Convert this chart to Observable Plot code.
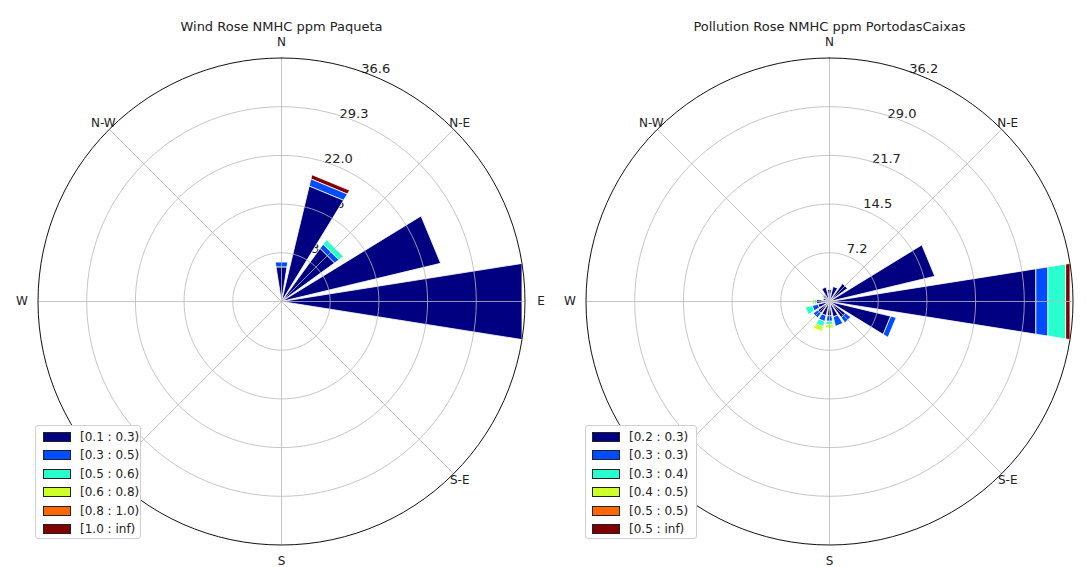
<!DOCTYPE html>
<html><head><meta charset="utf-8">
<script src="https://cdn.jsdelivr.net/npm/d3@7"></script>
<script src="https://cdn.jsdelivr.net/npm/@observablehq/plot@0.6"></script>
<style>
body{margin:0;background:#fff;font-family:"DejaVu Sans",sans-serif;}
#wrap{position:relative;width:1086px;height:567px;display:flex;overflow:hidden;background:#fff;}
.panel{position:relative;width:543px;height:567px;}
.panel svg{overflow:visible;}
.legend{position:absolute;background:#fff;border:1px solid #cfcfcf;border-radius:3px;box-sizing:border-box;padding-top:1.5px;font-size:12px;color:#222;z-index:2;}
.row{height:18.5px;display:flex;align-items:center;}
.sw{width:26px;height:8px;border:1px solid #222;}
</style></head>
<body><div id="wrap"></div>
<script>
// ---- data ----
const directions = ["N","NNE","NE","ENE","E","ESE","SE","SSE","S","SSW","SW","WSW","W","WNW","NW","NNW"];
const binColors = ["#000080","#004cff","#29ffce","#ceff29","#ff6800","#800000"];
const compassLabels = ["N","N-E","E","S-E","S","S-W","W","N-W"];

// Paqueta (left) - frequency (%) per direction for each bin
const paquetaBinLabels = ["[0.1 : 0.3)","[0.3 : 0.5)","[0.5 : 0.6)","[0.6 : 0.8)","[0.8 : 1.0)","[1.0 : inf)"];
const paquetaTicks = ["7.3","14.6","22.0","29.3","36.6"];
const paquetaBin0 = [5.3,17.9,9.9,24.6,36.6,0,0,0,0,0,0,0,0,0,0,0];
const paquetaBin1 = [0.7,1.1,0.8,0,0,0,0,0,0,0,0,0,0,0,0,0];
const paquetaBin2 = [0,0,0.8,0,0,0,0,0,0,0,0,0,0,0,0,0];
const paquetaBin3 = [0,0,0,0,0,0,0,0,0,0,0,0,0,0,0,0];
const paquetaBin4 = [0,0,0,0,0,0,0,0,0,0,0,0,0,0,0,0];
const paquetaBin5 = [0,0.6,0,0,0,0,0,0,0,0,0,0,0,0,0,0];

// PortodasCaixas (right)
const caixasBinLabels = ["[0.2 : 0.3)","[0.3 : 0.3)","[0.3 : 0.4)","[0.4 : 0.5)","[0.5 : 0.5)","[0.5 : inf)"];
const caixasTicks = ["7.2","14.5","21.7","29.0","36.2"];
const caixasBin0 = [1.8,2.3,3.3,16.1,31.1,9.4,3.0,2.4,2.2,2.2,2.2,1.8,2.0,1.0,1.2,2.2];
const caixasBin1 = [0,0,0,0,1.8,0.8,0.9,1.4,0.8,0.9,0.8,0.9,0,0,0,0];
const caixasBin2 = [0,0,0,0,2.7,0,0,0,0.5,0.8,0,1.0,0.3,0,0,0];
const caixasBin3 = [0,0,0,0,0,0,0,0,0.5,0.7,0,0,0.3,0,0,0];
const caixasBin4 = [0,0,0,0,0,0,0,0,0,0,0,0,0,0,0,0];
const caixasBin5 = [0,0,0,0,0.6,0,0,0,0,0,0,0,0,0,0,0];

const W = 543, H = 567, R = 243.5;
const rad = d => d * Math.PI / 180;
const rlabelDx = [9, 11, 1, -2, 1];

function rose({bins, ticks, title, cx, cy, legendLabels, legendLeft}) {
  const totals = directions.map((d, i) => d3.sum(bins, b => b[i]));
  const rmax = d3.max(totals);
  const k = R / rmax;
  const sector = 360 / directions.length, opening = sector * 0.8;
  const polys = bins.map(() => []);
  directions.forEach((d, i) => {
    let r0 = 0;
    bins.forEach((b, j) => {
      const v = b[i];
      if (!(v > 0)) return;
      const r1 = r0 + v, a = i * sector;
      const t1 = rad(a - opening / 2), t2 = rad(a + opening / 2);
      [[r0, t1], [r1, t1], [r1, t2], [r0, t2]].forEach(([r, t]) =>
        polys[j].push({id: d + j, x: r * Math.sin(t), y: r * Math.cos(t)}));
      r0 = r1;
    });
  });
  const ringR = ticks.map((t, i) => rmax * (i + 1) / ticks.length);
  const rings = [];
  ringR.forEach((r, i) => d3.range(0, 361, 3).forEach(a =>
    rings.push({ring: i, outer: i === ringR.length - 1, x: r * Math.sin(rad(a)), y: r * Math.cos(rad(a))})));
  const spokes = d3.range(8).map(i => ({a: i * 45}));
  const comp = compassLabels.map((l, i) => {
    const f = i % 2 === 0 ? 1.066 : 1.035;
    return {l, x: rmax * f * Math.sin(rad(i * 45)), y: rmax * f * Math.cos(rad(i * 45))};
  });
  const rlab = ticks.map((t, i) => ({t, i, x: ringR[i] * Math.sin(rad(22.5)), y: ringR[i] * Math.cos(rad(22.5))}));

  const plot = Plot.plot({
    width: W, height: H, margin: 0,
    x: {domain: [-cx / k, (W - cx) / k], axis: null},
    y: {domain: [-(H - cy) / k, cy / k], axis: null},
    style: {fontFamily: "DejaVu Sans, sans-serif", fontSize: "12px", color: "#222", background: "transparent", overflow: "visible"},
    marks: [
      ...rlab.map(d => Plot.text([d], {x: "x", y: "y", text: "t", dy: -8, dx: rlabelDx[d.i], fontSize: 13, fill: "#222"})),
      ...polys.map((p, j) => Plot.line(p, {x: "x", y: "y", z: "id", curve: "linear-closed",
        fill: binColors[j], stroke: "white", strokeWidth: 0.8})),
      Plot.link(spokes, {x1: 0, y1: 0, x2: d => rmax * Math.sin(rad(d.a)), y2: d => rmax * Math.cos(rad(d.a)),
        stroke: "#b8b8b8", strokeWidth: 0.8}),
      Plot.line(rings.filter(d => !d.outer), {x: "x", y: "y", z: "ring", stroke: "#b8b8b8", strokeWidth: 0.8}),
      Plot.line(rings.filter(d => d.outer), {x: "x", y: "y", z: "ring", stroke: "#111", strokeWidth: 1}),
      Plot.text(comp, {x: "x", y: "y", text: "l", fontSize: 12, fill: "#222"}),
      Plot.text([title], {x: () => 0, frameAnchor: "top", dy: 21, text: d => d, fontSize: 13, fill: "#222"})
    ]
  });
  const panel = document.createElement("div");
  panel.className = "panel";
  panel.appendChild(plot);
  const lg = document.createElement("div");
  lg.className = "legend";
  lg.style.left = legendLeft.box + "px";
  lg.style.top = "425px";
  lg.style.width = legendLeft.w + "px";
  lg.style.height = "114px";
  legendLabels.forEach((l, j) => {
    const row = document.createElement("div");
    row.className = "row";
    row.style.paddingLeft = legendLeft.sw + "px";
    const sw = document.createElement("div");
    sw.className = "sw"; sw.style.background = binColors[j];
    const tx = document.createElement("span");
    tx.textContent = l; tx.style.marginLeft = legendLeft.gap + "px";
    row.appendChild(sw); row.appendChild(tx);
    lg.appendChild(row);
  });
  panel.appendChild(lg);
  document.getElementById("wrap").appendChild(panel);
}

rose({bins: [paquetaBin0, paquetaBin1, paquetaBin2, paquetaBin3, paquetaBin4, paquetaBin5],
  ticks: paquetaTicks, title: "Wind Rose NMHC ppm Paqueta", cx: 281, cy: 301,
  legendLabels: paquetaBinLabels, legendLeft: {box: 35, w: 106, sw: 7, gap: 9}});
rose({bins: [caixasBin0, caixasBin1, caixasBin2, caixasBin3, caixasBin4, caixasBin5],
  ticks: caixasTicks, title: "Pollution Rose NMHC ppm PortodasCaixas", cx: 286, cy: 301,
  legendLabels: caixasBinLabels, legendLeft: {box: 42, w: 112, sw: 6, gap: 9}});
</script></body></html>
